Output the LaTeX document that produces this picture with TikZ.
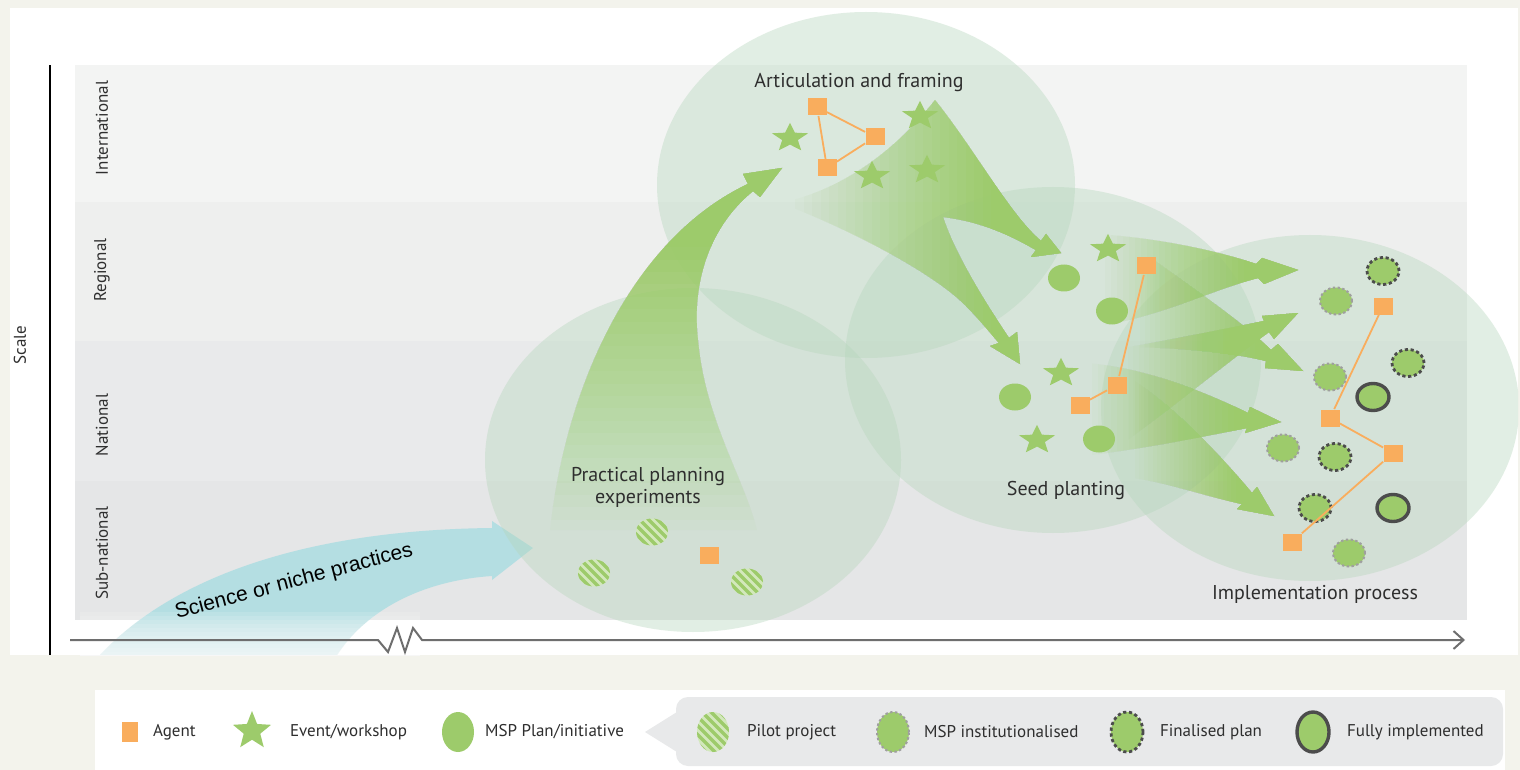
\documentclass[tikz,border=0pt]{standalone}
\usepackage{fontspec}
\setmainfont{PT Sans}
\newfontfamily\nichefont{Liberation Sans}
\usetikzlibrary{shapes.geometric,arrows.meta}

\definecolor{pagebg}{HTML}{F3F3EC}
\definecolor{bandA}{HTML}{F3F4F3}
\definecolor{bandB}{HTML}{EEEFEE}
\definecolor{bandC}{HTML}{E9EAEB}
\definecolor{bandD}{HTML}{E5E6E7}
\definecolor{agentorange}{HTML}{F9AD5D}
\definecolor{leafgreen}{HTML}{9DCB6B}
\definecolor{stripelight}{HTML}{D3E8BC}
\definecolor{zonegreen}{HTML}{B6D6BC}
\definecolor{nicheblue}{HTML}{B4DEE2}
\definecolor{textgrey}{HTML}{2E2E2E}
\definecolor{axisgrey}{HTML}{6E6E6E}
\definecolor{legendgrey}{HTML}{E8E9EA}

% green fan, clear at x=#2, solid from x=#3 on (#4,#5: top and bottom)
\newcommand{\fanfill}[5]{%
  \begin{scope}
    \clip #1;
    \foreach \k in {1,...,24}{
      \pgfmathsetmacro{\fanx}{#2+(#3-#2)*(\k-1)/24}
      \pgfmathsetmacro{\fanop}{1/(25-\k)}
      \fill[leafgreen, opacity=\fanop] (\fanx,#4) rectangle (#3+80,#5);
    }
  \end{scope}}
% green rising arrow, clear at y=#2, solid from y=#3 upwards (#4,#5: left and right)
\newcommand{\risefill}[5]{%
  \begin{scope}
    \clip #1;
    \foreach \k in {1,...,24}{
      \pgfmathsetmacro{\risey}{#2+(#3-#2)*(\k-1)/24}
      \pgfmathsetmacro{\riseop}{1/(25-\k)}
      \fill[leafgreen, opacity=\riseop] (#4,\risey) rectangle (#5,#3-80);
    }
  \end{scope}}

\tikzset{
  agent/.style={rectangle, fill=agentorange, minimum width=9.5pt, minimum height=8.5pt, inner sep=0pt},
  eventmark/.style={star, star points=5, star point ratio=2.3, fill=leafgreen, minimum size=19pt, inner sep=0pt},
  event/.style={eventmark, yscale=0.8},
  plan/.style={ellipse, fill=leafgreen, minimum width=16pt, minimum height=13.5pt, inner sep=0pt},
  pilot/.style={plan, fill=stripelight, path picture={
      \foreach \k in {-6,...,6}
        \draw[leafgreen, line width=1.6pt] (path picture bounding box.center) ++(\k*4.5pt-15pt,15pt) -- ++(30pt,-30pt);
    }},
  instit/.style={plan, draw=gray!75, line width=1pt, dash pattern=on 1.2pt off 1.2pt},
  finalised/.style={plan, draw=black!70, line width=1.4pt, dash pattern=on 1.6pt off 1.3pt},
  fully/.style={plan, draw=black!70, line width=1.7pt},
  legendmark/.style={minimum width=16pt, minimum height=20pt},
  link/.style={agentorange, line width=0.9pt},
  zone/.style={zonegreen, opacity=0.4},
  bandlabel/.style={rotate=90, text=textgrey, font=\fontsize{8.5}{10}\selectfont},
  stage/.style={text=textgrey, align=center, font=\fontsize{10}{11}\selectfont},
  legendtext/.style={anchor=west, text=textgrey, font=\fontsize{8.5}{10}\selectfont}
}

\begin{document}
\begin{tikzpicture}[x=0.5pt, y=-0.5pt]
    \useasboundingbox (0,0) rectangle (1520,770);
    % page, white panel and legend box
    \fill[pagebg] (0,0) rectangle (1520,770);
    \fill[white] (10,8) rectangle (1518,655);
    \fill[white] (95,690) rectangle (1505,770);

    \begin{scope}
    \clip (10,8) rectangle (1518,655);
    % the four scale bands
    \fill[bandA] (75,65) rectangle (1467,202);
    \fill[bandB] (75,202) rectangle (1467,341);
    \fill[bandC] (75,341) rectangle (1467,481);
    \fill[bandD] (75,481) rectangle (1467,620);
    % the niche arrow, fading out at the bottom
    \fill[nicheblue] (100,655) .. controls (170,580) and (300,530) .. (492,528) -- (492,521) -- (533,548) -- (492,580) -- (492,576) .. controls (430,580) and (370,605) .. (337,655) -- cycle;
    \foreach \k in {1,...,12}
      \fill[white, opacity=0.12] (80,{608+4*\k}) rectangle (420,656);
    % the four stage zones
    \fill[zone] (693,460) ellipse [x radius=208, y radius=172];
    \fill[zone] (866,185) ellipse [x radius=209, y radius=173];
    \fill[zone] (1053,360) ellipse [x radius=208, y radius=173];
    \fill[zone] (1310,408) ellipse [x radius=209, y radius=173];
    % the green arrows between stages
    \risefill{(550,530) .. controls (565,390) and (630,240) .. (748,184) -- (743,174) -- (782,168) -- (760,197) -- (753,191) .. controls (705,230) and (692,290) .. (698,340) .. controls (705,420) and (745,480) .. (757,530) -- cycle}{532}{235}{540}{790}
    \fanfill{(780,203) .. controls (840,225) and (930,270) .. (965,305) .. controls (980,320) and (992,335) .. (999,343) -- (990,346) -- (1020,364) -- (1017,332) -- (1009,338) .. controls (990,310) and (955,255) .. (943,217) .. controls (985,222) and (1015,238) .. (1036,250) -- (1031,257) -- (1061,253) -- (1046,234) -- (1041,241) .. controls (1010,215) and (975,150) .. (935,100) .. controls (880,170) and (820,195) .. cycle}{795}{1000}{90}{370}
    \fanfill{(1080,233) .. controls (1150,236) and (1215,250) .. (1256,264) -- (1262,258) -- (1298,270) -- (1264,284) -- (1258,278) .. controls (1210,290) and (1160,318) .. (1088,328) -- cycle}{1105}{1250}{225}{335}
    \fanfill{(1123,348) .. controls (1180,338) and (1230,328) .. (1264,321) -- (1262,316) -- (1298,313) -- (1274,339) -- (1269,332) .. controls (1230,360) and (1170,410) .. (1107,455) -- cycle}{1128}{1255}{305}{460}
    \fanfill{(1150,257) .. controls (1195,290) and (1240,320) .. (1271,350) -- (1278,344) -- (1303,371) -- (1265,368) -- (1266,361) .. controls (1230,352) and (1170,347) .. (1120,347) -- cycle}{1140}{1260}{250}{375}
    \fanfill{(1073,362) .. controls (1140,365) and (1200,390) .. (1248,413) -- (1250,407) -- (1281,422) -- (1245,433) -- (1247,428) .. controls (1200,437) and (1140,450) .. (1067,458) -- cycle}{1092}{1240}{355}{462}
    \fanfill{(1117,370) .. controls (1170,400) and (1220,455) .. (1252,493) -- (1257,487) -- (1274,516) -- (1237,509) -- (1242,504) .. controls (1200,495) and (1160,480) .. (1123,477) -- cycle}{1135}{1240}{365}{520}
    \end{scope}

    % axes
    \coordinate (yfoot) at (50,655);
    \coordinate (ytop) at (50,65);
    \coordinate (xfoot) at (70,640);
    \coordinate (xend) at (1465,640);
    \draw[black, line width=1.3pt] (yfoot) -- (ytop);
    \draw[axisgrey, line width=1pt, -{Straight Barb[length=5pt,width=9pt]}] (xfoot) -- (378,640) -- (388,652) -- (397,628) -- (405,652) -- (413,628) -- (422,640) -- (xend);
    \node[bandlabel] (scale) at (20,345) {Scale};
    \node[bandlabel] (intl) at (102,128) {International};
    \node[bandlabel] (regional) at (102,270) {Regional};
    \node[bandlabel] (national) at (102,425) {National};
    \node[bandlabel] (subnational) at (102,553) {Sub-national};
    \node[rotate=15, text=black, font=\nichefont\fontsize{10.5}{12}\selectfont] (niche) at (294,582) {Science or niche practices};

    % Practical planning experiments
    \node[stage] (practical) at (648,487) {Practical planning\\experiments};
    \node[pilot] (pilotA) at (652,532) {};
    \node[pilot] (pilotB) at (594,573) {};
    \node[pilot] (pilotC) at (747,582) {};
    \node[agent] (practAgent) at (709,555) {};

    % Articulation and framing
    \node[stage] (articulation) at (859,83) {Articulation and framing};
    \node[agent] (artA) at (817,107) {};
    \node[agent] (artB) at (875,137) {};
    \node[agent] (artC) at (827,168) {};
    \node[event] (artStarA) at (790,138) {};
    \node[event] (artStarB) at (920,116) {};
    \node[event] (artStarC) at (872,176) {};
    \node[event] (artStarD) at (927,170) {};
    \draw[link] (artA) -- (artB);
    \draw[link] (artB) -- (artC);
    \draw[link] (artC) -- (artA);

    % Seed planting
    \node[stage] (seed) at (1066,490) {Seed planting};
    \node[event] (seedStarA) at (1108,249) {};
    \node[event] (seedStarB) at (1061,373) {};
    \node[event] (seedStarC) at (1037,440) {};
    \node[plan] (seedPlanA) at (1064,278) {};
    \node[plan] (seedPlanB) at (1112,311) {};
    \node[plan] (seedPlanC) at (1015,397) {};
    \node[plan] (seedPlanD) at (1099,439) {};
    \node[agent] (seedA) at (1146,266) {};
    \node[agent] (seedB) at (1117,385) {};
    \node[agent] (seedC) at (1080,405) {};
    \draw[link] (seedA) -- (seedB);
    \draw[link] (seedB) -- (seedC);

    % Implementation process
    \node[stage] (implementation) at (1315,594) {Implementation process};
    \node[finalised] (impFinA) at (1383,271) {};
    \node[instit] (impInsA) at (1336,301) {};
    \node[finalised] (impFinB) at (1408,363) {};
    \node[instit] (impInsB) at (1330,377) {};
    \node[fully] (impFullA) at (1373,397) {};
    \node[instit] (impInsC) at (1283,448) {};
    \node[finalised] (impFinC) at (1335,457) {};
    \node[finalised] (impFinD) at (1315,508) {};
    \node[fully] (impFullB) at (1393,508) {};
    \node[instit] (impInsD) at (1349,553) {};
    \node[agent] (impA) at (1383,306) {};
    \node[agent] (impB) at (1330,418) {};
    \node[agent] (impC) at (1393,453) {};
    \node[agent] (impD) at (1292,542) {};
    \draw[link] (impA) -- (impB);
    \draw[link] (impB) -- (impC);
    \draw[link] (impC) -- (impD);

    % Legend
    \fill[legendgrey, rounded corners=6pt] (676,697) rectangle (1503,766);
    \fill[legendgrey] (677,712) -- (645,732) -- (677,752) -- cycle;
    \node[agent, minimum width=8pt, minimum height=10pt] (keyAgent) at (130,732) {};
    \node[legendtext] (keyAgentText) at (146,732) {Agent};
    \node[eventmark, minimum size=20pt] (keyEvent) at (252,731) {};
    \node[legendtext] (keyEventText) at (283,732) {Event/workshop};
    \node[plan, legendmark] (keyPlan) at (458,732) {};
    \node[legendtext] (keyPlanText) at (478,732) {MSP Plan/initiative};
    \node[pilot, legendmark] (keyPilot) at (713,732) {};
    \node[legendtext] (keyPilotText) at (740,732) {Pilot project};
    \node[instit, legendmark] (keyInstit) at (893,732) {};
    \node[legendtext] (keyInstitText) at (917,732) {MSP institutionalised};
    \node[finalised, legendmark] (keyFinal) at (1127,732) {};
    \node[legendtext] (keyFinalText) at (1153,732) {Finalised plan};
    \node[fully, legendmark] (keyFull) at (1313,732) {};
    \node[legendtext] (keyFullText) at (1340,732) {Fully implemented};
\end{tikzpicture}
\end{document}
